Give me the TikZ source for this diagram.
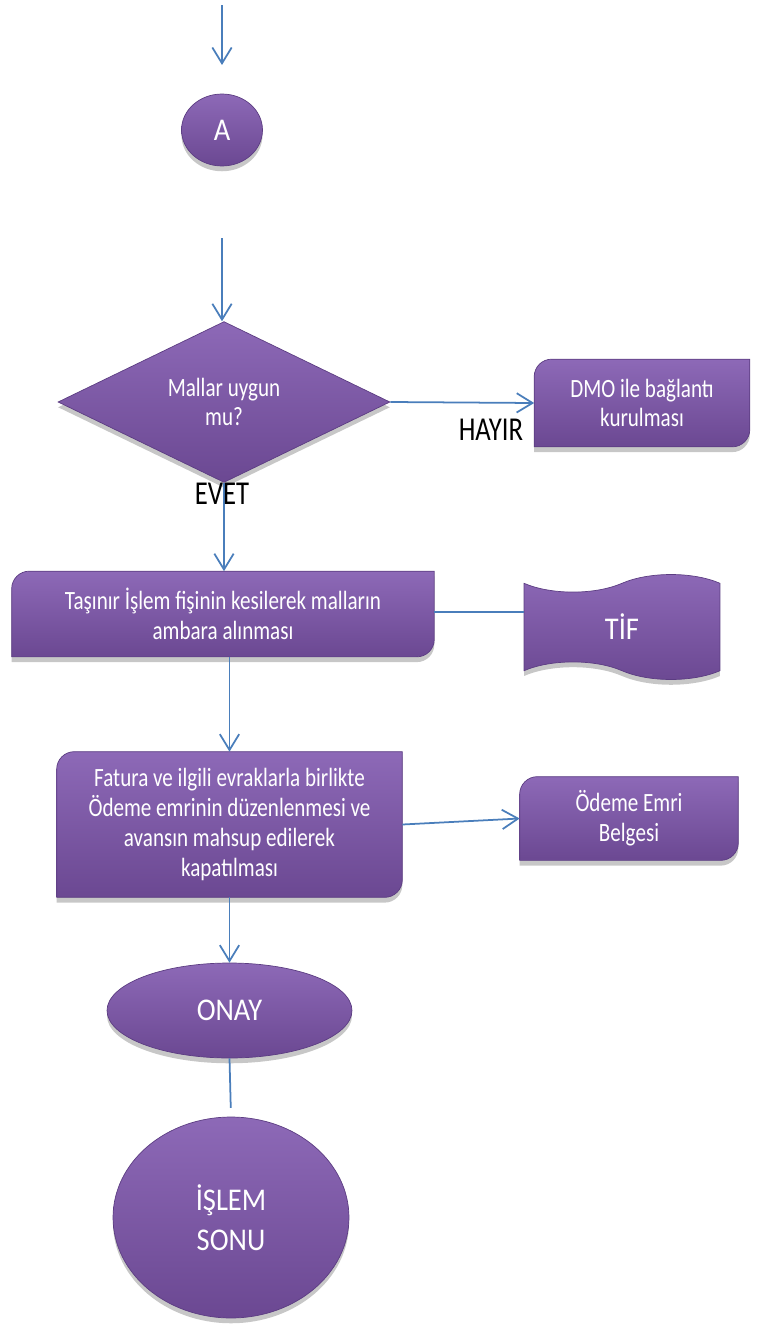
\documentclass[tikz,border=0pt]{standalone}
\usepackage{fontspec}
\setmainfont{Carlito}
\newfontfamily\darfont[FakeStretch=0.8]{Carlito}
\newfontfamily\azdarfont[FakeStretch=0.9]{Carlito}
\usepackage{tikz}
\usetikzlibrary{arrows.meta,positioning,shapes.geometric,shapes.symbols,shadows}
\definecolor{morust}{HTML}{8D69B7}
\definecolor{moralt}{HTML}{6B4892}
\definecolor{morkenar}{HTML}{5C3D82}
\definecolor{okmavi}{HTML}{4A7EBB}
\pgfdeclarelayer{arka}
\pgfsetlayers{arka,main}
\tikzset{every shadow/.style={fill=black,opacity=0.22,shadow xshift=0pt,shadow yshift=-3pt}}
\tikzset{
  mor/.style={top color=morust,bottom color=moralt,draw=morkenar,thin,drop shadow},
  kucuk/.style={font=\darfont\fontsize{15}{17}\selectfont,align=center,text=white},
  buyuk/.style={font=\azdarfont\fontsize{18}{23}\selectfont,align=center,text=white},
  etiket/.style={font=\darfont\fontsize{19}{22}\selectfont,text=black},
  kutu/.style={kucuk,inner sep=0pt},
  ok/.style={draw=okmavi,line width=1pt,-{Straight Barb[length=9pt,width=11pt]}},
  cizgi/.style={draw=okmavi,line width=1pt},
}
% kutu: sol ust ve sag alt koseler yuvarlak
\newcommand{\koseli}[1]{%
  \begin{pgfonlayer}{arka}
  \path[mor] (#1.south west) -- ([yshift=-10pt]#1.north west)
    arc[start angle=180,end angle=90,radius=10pt] -- (#1.north east)
    -- ([yshift=10pt]#1.south east)
    arc[start angle=0,end angle=-90,radius=10pt] -- cycle;
  \end{pgfonlayer}}

\begin{document}
\begin{tikzpicture}[x=0.02cm,y=0.02cm]
\useasboundingbox (0,0) rectangle (759,-1325);
% \draw[help lines,step=50] (0,0) grid (759,-1325);
\coordinate (bas) at (222,-5);
\node (a) [ellipse,mor,buyuk,minimum width=1.62cm,minimum height=1.44cm] at (222,-130) {A};
\coordinate (devam) at (222,-238);
\node (soru) [diamond,mor,kucuk,minimum width=6.64cm,minimum height=3.06cm,inner sep=0pt] at (224,-402) {Mallar uygun\\mu?};
\node (dmo) [kutu,minimum width=4.3cm,minimum height=1.74cm] at (642,-403) {DMO ile bağlantı\\kurulması};
\koseli{dmo}
\node (tasinir) [kutu,minimum width=8.44cm,minimum height=1.7cm] at (223,-614) {Taşınır İşlem fişinin kesilerek malların\\ambara alınması};
\koseli{tasinir}
\node (tif) [tape,mor,buyuk,tape bend top=in and out,tape bend bottom=out and in,tape bend height=10pt,minimum width=3.92cm,minimum height=2.1cm,inner sep=0pt] at (622,-627) {TİF};
\node (fatura) [kutu,minimum width=6.9cm,minimum height=2.9cm] at (229.5,-824.5) {Fatura ve ilgili evraklarla birlikte\\Ödeme emrinin düzenlenmesi ve\\avansın mahsup edilerek\\kapatılması};
\koseli{fatura}
\node (odeme) [kutu,minimum width=4.36cm,minimum height=1.66cm] at (629,-818.5) {Ödeme Emri\\Belgesi};
\koseli{odeme}
\node (onay) [ellipse,mor,buyuk,minimum width=4.9cm,minimum height=1.9cm] at (229.5,-1010.5) {ONAY};
\node (son) [ellipse,mor,buyuk,minimum width=4.72cm,minimum height=4.02cm] at (231,-1217.5) {İŞLEM\\SONU};
%
\path[ok] (bas) -- ([yshift=-1.2cm]bas);
\path[ok] (devam) -- (devam |- soru.north);
\path[ok] (soru.east) -- (dmo.west);
\path[ok] (soru.south) -- (soru.south |- tasinir.north);
\path[cizgi] (tasinir.east |- 0,-612) -- (tif.west |- 0,-612);
\path[ok] (tasinir.south -| fatura.north) -- (fatura.north);
\path[ok] (fatura.east) -- (odeme.west);
\path[ok] (fatura.south -| onay.north) -- (onay.north);
\path[cizgi,shorten >=5pt] (onay.south) -- (son.north);
%
\node (hayir) [etiket] at (491,-430) {HAYIR};
\node (evet) [etiket] at (222,-494) {EVET};
\end{tikzpicture}
\end{document}
